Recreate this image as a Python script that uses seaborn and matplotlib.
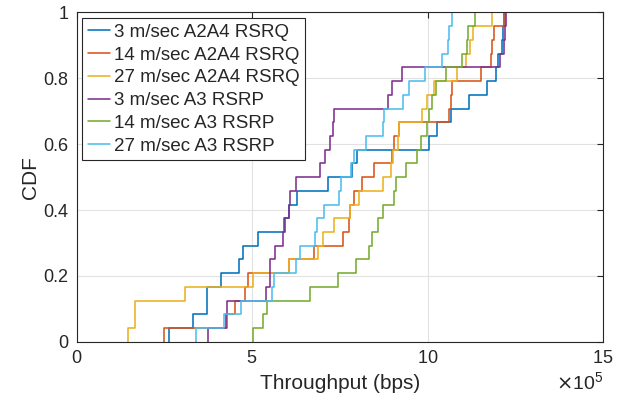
import numpy as np
import pandas as pd
import seaborn as sns
import matplotlib
matplotlib.use('Agg')
import matplotlib.pyplot as plt
from matplotlib.ticker import FuncFormatter

# Throughput samples (units of 1e5 bps)
thr_3_a2a4 = [2.63, 3.32, 3.70, 3.72, 4.10, 4.64, 4.75, 5.17, 5.92, 6.05, 6.28, 7.15,
              7.85, 7.99, 10.03, 10.28, 10.66, 11.18, 11.70, 11.94, 12.00, 12.13, 12.16, 12.19]
thr_14_a2a4 = [2.49, 4.27, 4.50, 4.79, 4.88, 6.05, 6.77, 7.58, 7.75, 7.80, 7.91, 8.13,
               8.48, 8.98, 9.04, 9.19, 10.61, 10.68, 10.71, 11.52, 11.80, 11.84, 11.88, 12.21]
thr_27_a2a4 = [1.45, 1.66, 1.67, 3.08, 5.02, 6.06, 6.87, 7.03, 7.32, 7.80, 8.05, 8.72,
               8.97, 9.02, 9.17, 9.19, 9.83, 9.98, 10.18, 10.85, 11.09, 11.20, 11.30, 11.85]
thr_3_a3 = [3.73, 4.26, 4.28, 5.40, 5.50, 5.51, 5.65, 5.87, 5.94, 6.06, 6.09, 6.24,
            6.94, 7.07, 7.22, 7.31, 7.32, 8.86, 8.98, 9.26, 12.06, 12.18, 12.21, 12.24]
thr_14_a3 = [5.02, 5.31, 5.42, 6.65, 7.46, 7.96, 8.34, 8.42, 8.58, 8.72, 9.04, 9.10,
             9.38, 9.69, 9.81, 9.98, 10.05, 10.14, 10.25, 10.52, 10.99, 11.12, 11.15, 11.35]
thr_27_a3 = [3.39, 4.20, 4.67, 5.58, 5.61, 6.24, 6.37, 6.78, 6.84, 7.06, 7.49, 7.53,
             7.82, 7.89, 8.25, 8.72, 8.75, 9.31, 9.46, 9.93, 10.41, 10.57, 10.61, 10.69]

labels = ['3 m/sec A2A4 RSRQ', '14 m/sec A2A4 RSRQ', '27 m/sec A2A4 RSRQ',
          '3 m/sec A3 RSRP', '14 m/sec A3 RSRP', '27 m/sec A3 RSRP']
series = [thr_3_a2a4, thr_14_a2a4, thr_27_a2a4, thr_3_a3, thr_14_a3, thr_27_a3]
colors = ['#0072BD', '#D95319', '#EDB120', '#7E2F8E', '#77AC30', '#4DBEEE']

sns.set_theme(style='white')
plt.rcParams['font.family'] = ['Liberation Sans', 'DejaVu Sans']

fig = plt.figure(figsize=(6.28, 4.03), dpi=100)
ax = fig.add_axes([0.1221, 0.1521, 0.8381, 0.8169])

for name, vals, c in zip(labels, series, colors):
    df = pd.DataFrame({'throughput': np.array(vals) * 1e5})
    sns.ecdfplot(data=df, x='throughput', ax=ax, color=c, linewidth=1.15, label=name)

ax.set_xlim(0, 15e5)
ax.set_ylim(0, 1)
ax.set_xticks([0, 5e5, 10e5, 15e5])
ax.set_yticks([0, 0.2, 0.4, 0.6, 0.8, 1.0])
ax.ticklabel_format(axis='x', style='sci', scilimits=(5, 5), useMathText=True)
ax.yaxis.set_major_formatter(FuncFormatter(lambda v, p: f'{v:g}'))

ax.grid(True, color='#e2e2e2', linewidth=0.8)
ax.set_axisbelow(True)
for s in ax.spines.values():
    s.set_color('#262626')
    s.set_linewidth(0.8)
ax.tick_params(direction='in', length=4, width=0.8, color='#262626',
               top=True, right=True, labelsize=13, labelcolor='#262626', pad=6)
ax.xaxis.get_offset_text().set_fontsize(14)
ax.xaxis.get_offset_text().set_color('#262626')

ax.set_xlabel('Throughput (bps)', fontsize=15, color='#262626', labelpad=5)
ax.set_ylabel('CDF', fontsize=15, color='#262626', labelpad=2)

leg = ax.legend(loc='upper left', fontsize=13.5, frameon=True, fancybox=False,
                edgecolor='#262626', framealpha=1, borderpad=0.3, labelspacing=0.3,
                handlelength=1.2, handletextpad=0.2, borderaxespad=0.3)
leg.get_frame().set_linewidth(0.8)

plt.savefig('out.png', dpi=100)
